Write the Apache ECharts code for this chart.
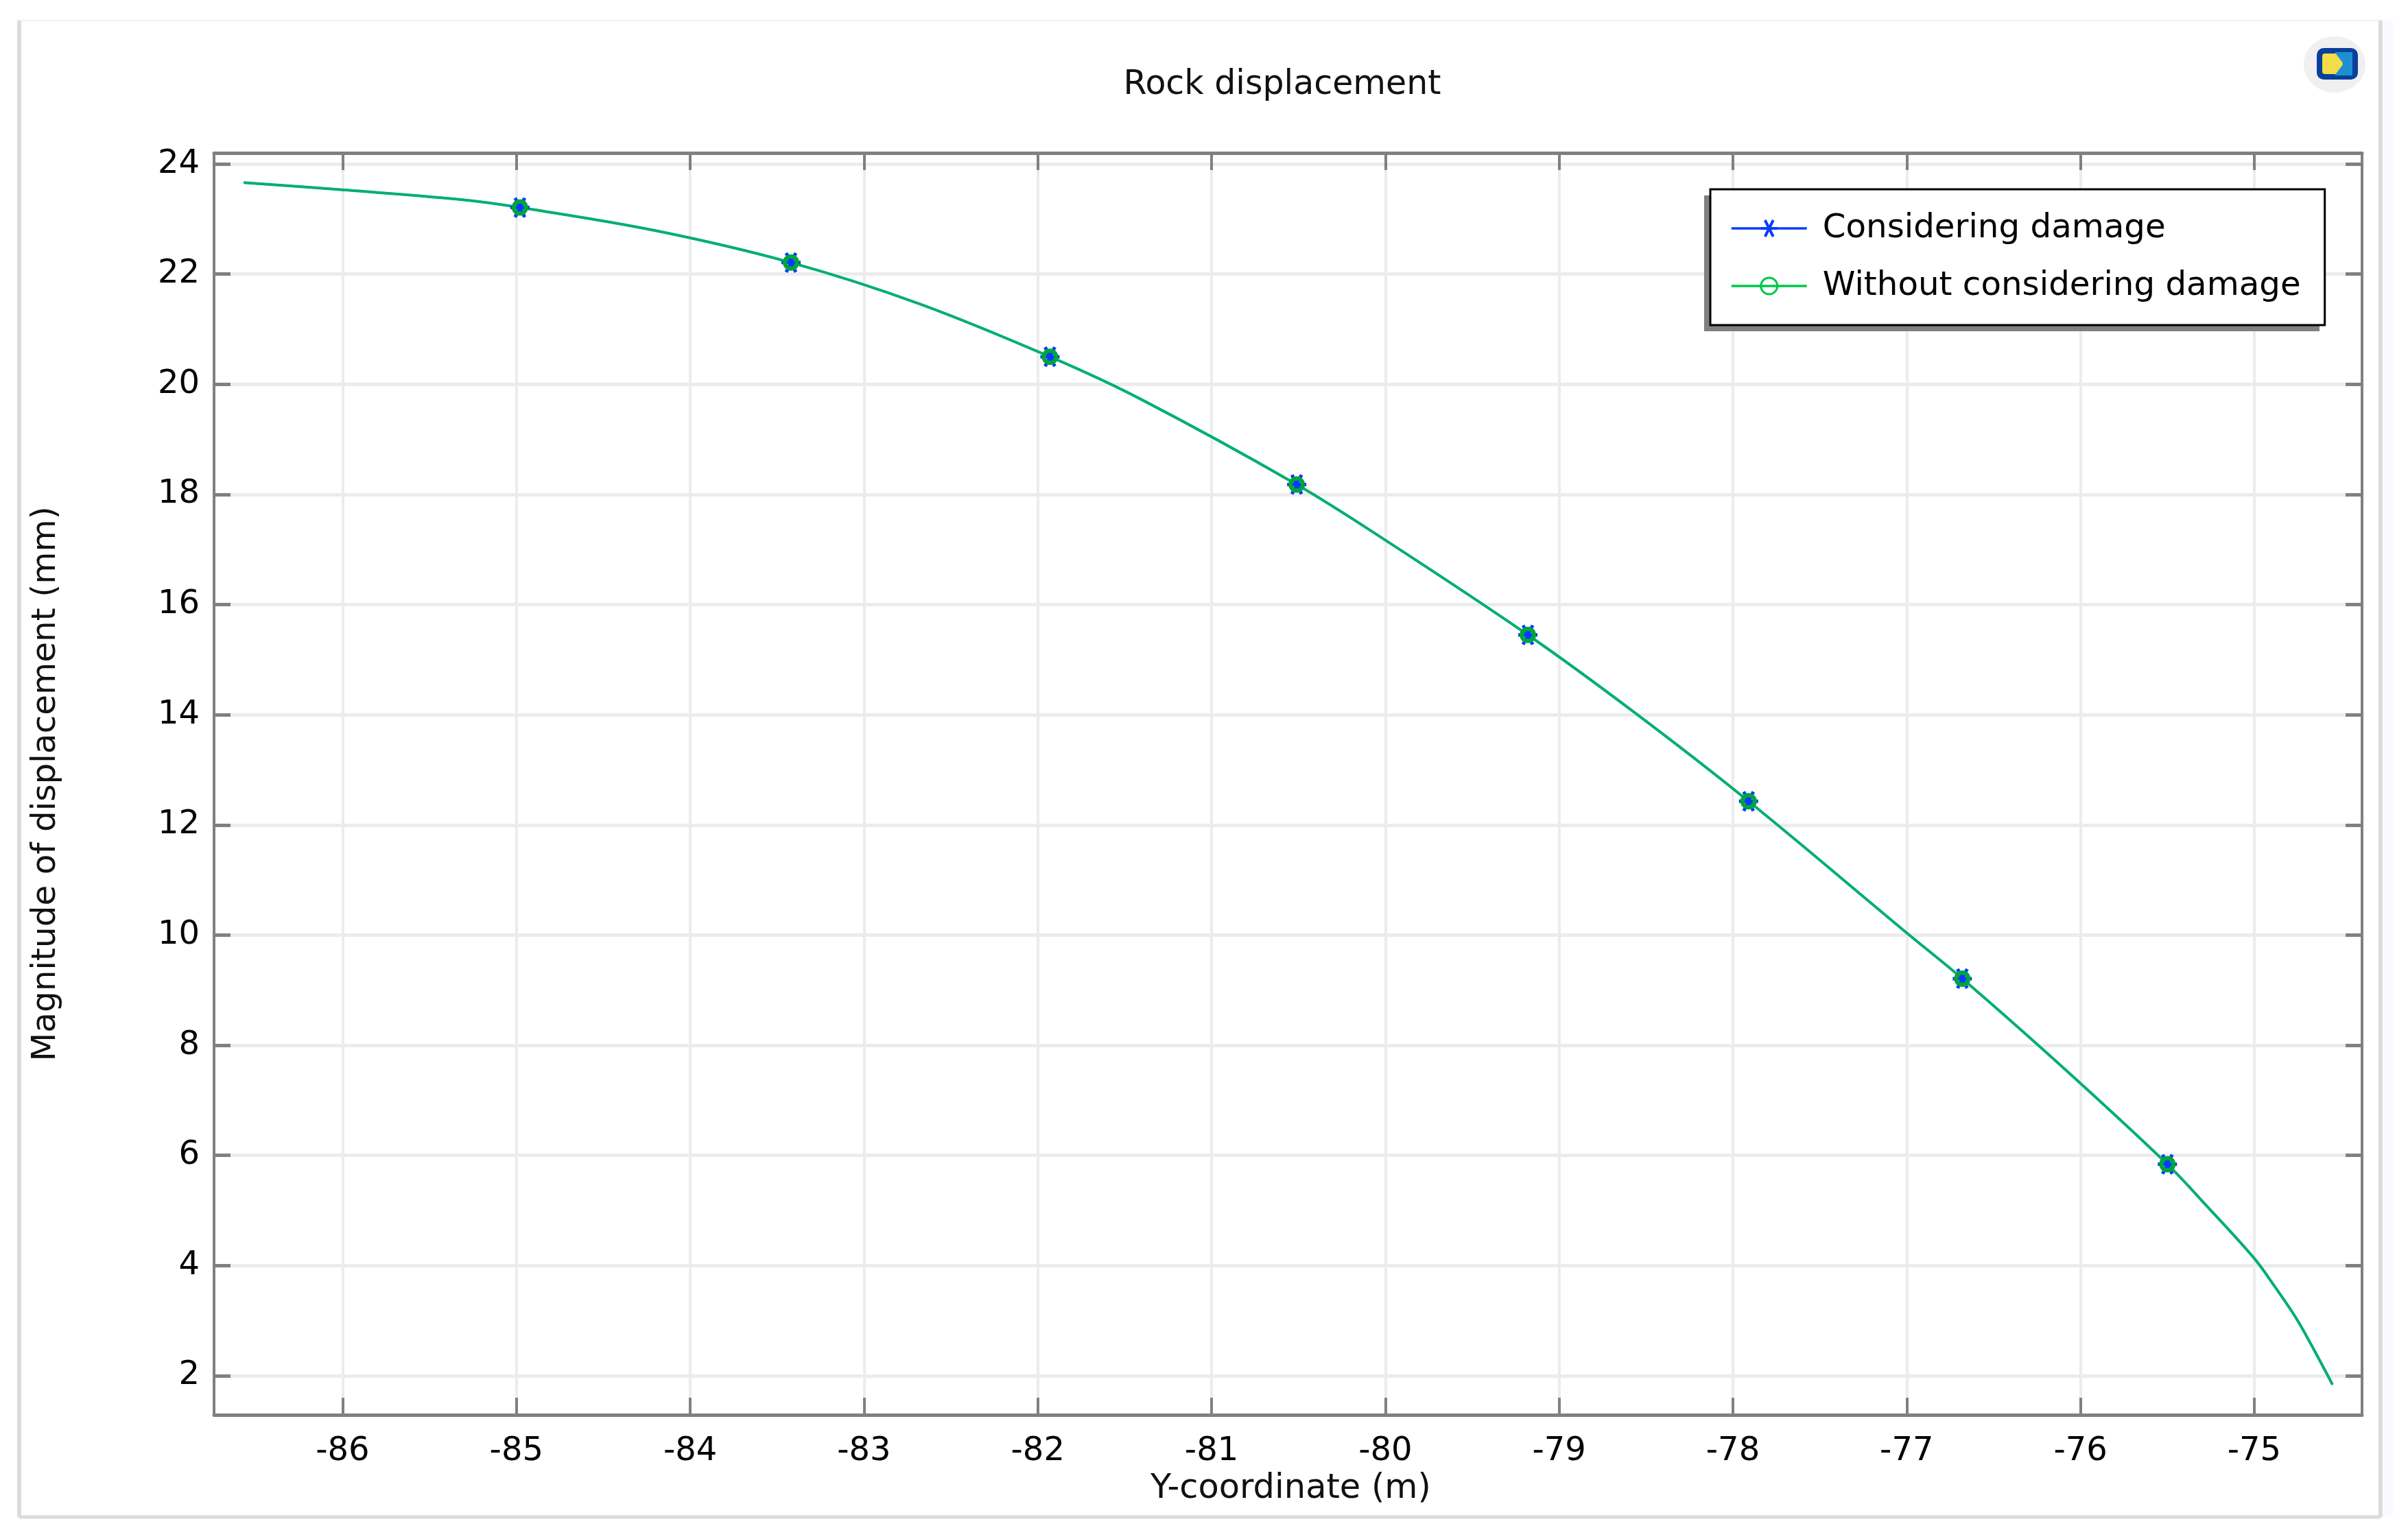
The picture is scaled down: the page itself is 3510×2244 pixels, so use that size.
<!DOCTYPE html>
<html>
<head>
<meta charset="utf-8">
<title>Rock displacement</title>
<style>
  html, body { margin: 0; padding: 0; background: #fff; }
  #main { width: 3510px; height: 2244px; }
</style>
<script src="https://cdn.jsdelivr.net/npm/echarts@6/dist/echarts.min.js"></script>
</head>
<body>
<div id="main"></div>
<script>
var yCoordinate = [-86.57, -86, -85.31, -84.98, -84.2, -83.42, -82.68, -81.93, -81.42, -80.51, -80, -79.18, -78.57, -77.91, -77, -76.68, -76.13, -75.5, -75.27, -75, -74.88, -74.76, -74.67, -74.55];
var considering = [23.66, 23.53, 23.35, 23.21, 22.79, 22.21, 21.46, 20.5, 19.75, 18.18, 17.17, 15.45, 14.05, 12.43, 10.04, 9.21, 7.68, 5.84, 5.07, 4.13, 3.61, 3.05, 2.55, 1.84];
var withoutDamage = [23.66, 23.53, 23.35, 23.21, 22.79, 22.21, 21.46, 20.5, 19.75, 18.18, 17.17, 15.45, 14.05, 12.43, 10.04, 9.21, 7.68, 5.84, 5.07, 4.13, 3.61, 3.05, 2.55, 1.84];
var markerCoordinates = [-84.98, -83.42, -81.93, -80.51, -79.18, -77.91, -76.68, -75.5];
var xTicks = [-86, -85, -84, -83, -82, -81, -80, -79, -78, -77, -76, -75];
var yTicks = [2, 4, 6, 8, 10, 12, 14, 16, 18, 20, 22, 24];
var seriesNames = ["Considering damage", "Without considering damage"];

var font = "DejaVu Sans";
var axisGray = "#808080";
var gridGray = "#ececec";
var xMin = -86.74, xMax = -74.38;
var yMin = 1.29, yMax = 24.2;

function points(values) {
  return yCoordinate.map(function (x, i) {
    if (markerCoordinates.indexOf(x) >= 0) return [x, values[i]];
    return { value: [x, values[i]], symbol: "none" };
  });
}

function xAxis(position, main) {
  return {
    type: "value", position: position, min: xMin, max: xMax,
    name: main ? "Y-coordinate (m)" : "", nameLocation: "middle", nameGap: 82,
    nameTextStyle: { fontFamily: font, fontSize: 49.5, color: "#111", padding: [0, 0, 0, 8] },
    axisLine: { show: true, onZero: false, lineStyle: { color: axisGray, width: 5 } },
    axisTick: { show: true, inside: true, length: 25, customValues: xTicks, lineStyle: { color: axisGray, width: 4 } },
    axisLabel: { show: main, margin: 30, customValues: xTicks, fontFamily: font, fontSize: 48, color: "#000" },
    splitLine: { show: main, lineStyle: { color: gridGray, width: 4 } }
  };
}

function yAxis(position, main) {
  return {
    type: "value", position: position, min: yMin, max: yMax,
    name: main ? "Magnitude of displacement (mm)" : "", nameLocation: "middle", nameGap: 220,
    nameTextStyle: { fontFamily: font, fontSize: 48.5, color: "#111" },
    axisLine: { show: true, onZero: false, lineStyle: { color: axisGray, width: 4 } },
    axisTick: { show: true, inside: true, length: 24, customValues: yTicks, lineStyle: { color: axisGray, width: 5 } },
    axisLabel: { show: main, margin: 21, customValues: yTicks, fontFamily: font, fontSize: 48, color: "#000" },
    splitLine: { show: main, lineStyle: { color: gridGray, width: 5 } }
  };
}

var myChart = echarts.init(document.getElementById("main"), null, { renderer: "canvas" });
var option = {
  animation: false,
  backgroundColor: "#ffffff",
  title: {
    text: "Rock displacement", left: 1864, top: 119, textAlign: "center", textVerticalAlign: "middle",
    textStyle: { fontFamily: font, fontSize: 49, fontWeight: "normal", color: "#111" }
  },
  grid: { left: 312, top: 223, width: 3131, height: 1840 },
  xAxis: [xAxis("bottom", true), xAxis("top", false)],
  yAxis: [yAxis("left", true), yAxis("right", false)],
  legend: {
    left: 2493, top: 276, orient: "vertical", align: "left",
    padding: [33, 35, 33, 29], itemGap: 36, itemWidth: 110, itemHeight: 30,
    backgroundColor: "#fff", borderColor: "#000", borderWidth: 3,
    textStyle: { fontFamily: font, fontSize: 48.3, lineHeight: 48, color: "#000", padding: [0, 0, 0, 18] },
    data: [
      { name: seriesNames[0], lineStyle: { width: 3.5 }, itemStyle: { borderWidth: 4 } },
      { name: seriesNames[1], lineStyle: { color: "#00c84a", width: 3.5 }, itemStyle: { borderColor: "#00c84a", borderWidth: 3 } }
    ]
  },
  series: [
    {
      name: seriesNames[0], type: "line", smooth: 0.35,
      symbol: "path://M0 14H28M7 2L21 26M21 2L7 26", symbolSize: 28, showAllSymbol: true,
      itemStyle: { color: "#0a3cff", borderColor: "#0a3cff", borderWidth: 5 },
      lineStyle: { color: "#0a3cff", width: 3 },
      data: points(considering)
    },
    {
      name: seriesNames[1], type: "line", smooth: 0.35,
      symbol: "circle", symbolSize: 18, showAllSymbol: true,
      itemStyle: { color: "transparent", borderColor: "#00a63a", borderWidth: 6 },
      lineStyle: { color: "#00b06e", width: 4 },
      data: points(withoutDamage)
    }
  ],
  graphic: [
    // outer figure frame
    { type: "rect", shape: { x: 28, y: 30, width: 3442, height: 2181 }, style: { fill: "none", stroke: "#f4f4f4", lineWidth: 3 }, z: 0 },
    { type: "line", shape: { x1: 28, y1: 30, x2: 28, y2: 2212 }, style: { stroke: "#dcdcdc", lineWidth: 6 }, z: 0 },
    { type: "line", shape: { x1: 28, y1: 2212, x2: 3470, y2: 2212 }, style: { stroke: "#dcdcdc", lineWidth: 5 }, z: 0 },
    { type: "line", shape: { x1: 3470, y1: 30, x2: 3470, y2: 2212 }, style: { stroke: "#dcdcdc", lineWidth: 6 }, z: 0 },
    { type: "rect", shape: { x: 3474, y: 30, width: 14, height: 2181 }, style: { fill: "#f9fafe" }, z: 0 },
    // legend drop shadow
    { type: "rect", shape: { x: 2484, y: 285, width: 897, height: 198 }, style: { fill: "#808080" }, z: 3 },
    // logo in the corner
    { type: "ellipse", shape: { cx: 3403, cy: 94, rx: 45, ry: 41 }, style: { fill: "#f0f0f0" }, z: 0 },
    { type: "rect", shape: { x: 3377, y: 70, width: 60, height: 46, r: 10 }, style: { fill: "#0a3f9c" }, z: 1 },
    { type: "rect", shape: { x: 3385, y: 78, width: 30, height: 30, r: 4 }, style: { fill: "#f2dc4a" }, z: 2 },
    { type: "polygon", shape: { points: [[3403, 76], [3429, 76], [3429, 110], [3403, 110], [3416, 93]] }, style: { fill: "#1e8fd0" }, z: 3 }
  ]
};
myChart.setOption(option);
</script>
</body>
</html>
